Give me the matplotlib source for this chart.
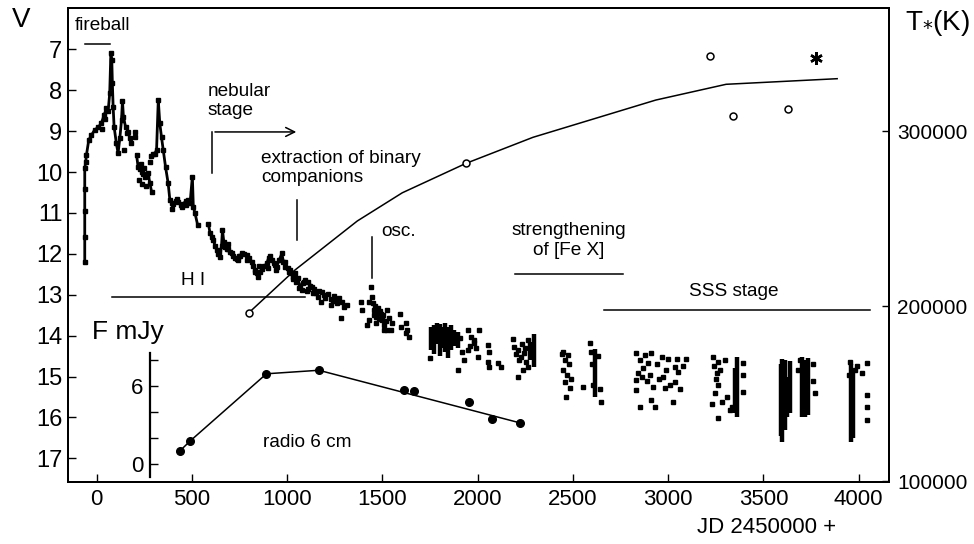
import numpy as np
import matplotlib
matplotlib.use("Agg")
import matplotlib.pyplot as plt

plt.rcParams['font.family'] = ['Liberation Sans', 'DejaVu Sans']

nan = np.nan

# V light curve, densely sampled part (nan = gap in the trace)
trace_jd = [-63, -63, -63, -63, -63, -58, -54, -42, -28, -11, 7, 24, 38, 51, 60, 68, 74, 79, 82, 86,
            91, 103, 112, 121, 130, 135, 140, 151, 165, 174, 180, nan,
            209, 217, 226, 235, 244, 253, 262, 270, 279, 288, nan,
            305, 314, 323, 331, 340, 349, 361, 375, 384, 393, 402, 415, 428, 441, 454, 467, 481, 490,
            502, 507, 516, 530, nan,
            586, 595, 604, 612, 621, 630, 639, 647, 655, 660, 667, 674, 683, 691, 700, 709, 717, 726,
            735, 744, 752, 761, 774, 788, 800, 814, 822, 831, 840, 849, 858, 866, 880, 893, 902, 910,
            919, 928, 937, 945, 958, 972, 980, 989, 1002, 1016, 1028, 1042, 1055, 1068, 1081, 1095,
            1110, 1130]
trace_v = [12.19, 11.58, 10.95, 10.42, 9.91, 9.75, 9.58, 9.22, 9.10, 8.97, 8.91, 8.81, 8.61, 8.44, 8.50,
           8.08, 7.10, 7.26, 7.83, 8.40, 8.89, 9.30, 9.54, 9.18, 8.73, 8.26, 8.65, 8.89, 9.01, 9.18, 9.28, nan,
           9.58, 9.87, 9.92, 9.99, 10.05, 10.11, 10.08, 10.03, 10.28, 10.48, nan,
           9.55, 9.46, 8.24, 8.81, 9.15, 9.46, 9.87, 10.28, 10.69, 10.75, 10.77, 10.70, 10.73, 10.80,
           10.77, 10.72, 10.69, 10.75, 10.11, 10.85, 11.01, 11.30, nan,
           11.26, 11.50, 11.58, 11.66, 11.80, 11.91, 12.00, 12.07, 11.80, 11.42, 11.70, 11.83, 11.88,
           11.87, 11.95, 11.99, 12.05, 12.11, 12.13, 12.15, 12.05, 11.99, 12.00, 12.03, 12.10, 12.19,
           12.30, 12.40, 12.48, 12.56, 12.45, 12.36, 12.30, 12.23, 12.10, 12.05, 12.15, 12.23, 12.28,
           12.31, 12.15, 11.99, 12.20, 12.31, 12.35, 12.40, 12.56, 12.48, 12.60, 12.80, 12.72, 12.64,
           12.70, 12.80]

# individual V estimates
dots_jd = [200, 203, 281, 284, 296, 220, 240, 258, 230, 250, 30, 45, 145, 160, 395, 420, 445, 470,
           640, 690, 745, 790, 830, 850, 900, 940, 990, 1010,
           1020, 1030, 1045, 1060, 1075, 1090, 1105, 1120, 1140, 1150, 1160, 1175, 1185, 1200, 1215,
           1228, 1230, 1245, 1255, 1270, 1281, 1285, 1298, 1316, 1110, 1135, 1165, 1195, 1240, 1262,
           1386, 1395, 1421, 1430, 1430, 1442, 1447, 1450, 1456, 1460, 1465, 1470, 1474, 1480, 1491,
           1495, 1500, 1505, 1509, 1509, 1517, 1526, 1526, 1535, 1544, 1552, 1455, 1468, 1485,
           1593, 1596, 1623, 1623, 1631, 1640,
           1894, 1930, 1947, 1947, 1965, 1982, 1982, 1999, 2008, 2052, 2061, 2052, 2061, 2105, 2123,
           1750, 1905, 1915, 1960, 1990,
           2184, 2193, 2210, 2219, 2228, 2245, 2254, 2263, 2263, 2210, 2230, 2240, 2200, 2250,
           2447, 2456, 2474, 2456, 2482, 2465, 2553, 2588, 2649, 2440, 2450, 2470, 2480, 2490,
           2595, 2600, 2605, 2630, 2640,
           2833, 2842, 2833, 2833, 2851, 2877, 2895, 2912, 2921, 2912, 2930, 2965, 2974, 2982, 3000,
           3035, 3035, 3026, 3096, 3044, 2850, 2860, 2870, 2890, 2905, 2940, 2950, 2990, 3010, 3050,
           3060, 3080,
           3237, 3263, 3254, 3263, 3228, 3281, 3263, 3325, 3395, 3395, 3395, 3333, 3240, 3250, 3245,
           3270, 3300, 3310,
           3760, 3770, 3690, 3956, 3982, 4017, 4044, 4044, 4044, 4044, 3760, 3680, 3950, 3990]
dots_v = [9.01, 9.15, 9.75, 9.62, 9.55, 10.20, 10.30, 10.35, 9.80, 9.90, 8.95, 8.70, 9.45, 9.05, 10.90,
          10.65, 10.85, 10.80, 11.95, 11.75, 12.05, 12.15, 12.45, 12.30, 12.35, 12.40, 12.20, 12.45,
          12.48, 12.62, 12.70, 12.84, 12.88, 12.70, 12.92, 12.78, 12.85, 12.95, 13.05, 13.17, 12.93,
          13.08, 12.98, 13.25, 13.10, 13.02, 13.12, 13.08, 13.58, 13.18, 13.29, 13.25, 12.85, 12.95,
          12.90, 13.00, 13.15, 13.20,
          13.17, 13.37, 13.74, 13.17, 13.62, 12.80, 13.05, 13.20, 13.37, 13.28, 13.54, 13.45, 13.33,
          13.60, 13.46, 13.55, 13.62, 13.50, 13.74, 13.86, 13.65, 13.37, 13.86, 13.58, 13.86, 13.70,
          13.50, 13.70, 13.40,
          13.46, 13.78, 13.70, 13.94, 13.86, 14.03,
          14.84, 14.60, 13.86, 14.35, 14.03, 14.11, 14.19, 14.51, 13.86, 14.23, 14.39, 14.64, 14.76,
          14.68, 14.76, 14.55, 14.05, 14.40, 14.25, 14.30,
          14.07, 14.27, 14.35, 14.60, 14.51, 14.43, 14.64, 14.76, 14.11, 15.00, 14.20, 14.85, 14.45,
          14.30,
          14.39, 14.60, 14.47, 15.13, 15.29, 15.49, 15.25, 14.19, 15.62, 14.45, 14.85, 14.95, 14.70,
          15.05, 14.40, 14.70, 15.20, 14.50, 15.30,
          14.43, 14.92, 15.09, 15.33, 15.74, 14.47, 14.68, 14.43, 15.25, 15.58, 15.74, 14.52, 15.00,
          15.29, 14.56, 14.76, 15.13, 15.62, 14.56, 14.56, 14.60, 15.00, 14.80, 15.10, 14.95, 14.70,
          15.05, 14.85, 15.20, 14.90, 15.30, 14.75,
          14.52, 14.64, 14.92, 15.21, 15.66, 15.62, 16.02, 15.82, 14.68, 14.96, 15.37, 15.74, 14.75,
          15.05, 15.40, 14.85, 14.60, 15.50,
          15.10, 15.40, 14.60, 14.64, 14.84, 14.92, 14.68, 15.45, 15.74, 16.06, 14.70, 14.85, 14.95,
          14.75]

# dense groups of V estimates: JD, brightest, faintest
runs_jd = [1756, 1770, 1785, 1800, 1815, 1830, 1845, 1860, 1875, 1895,
           2275, 2298, 2614, 3352, 3362, 3590, 3600, 3612, 3625, 3640, 3705, 3720, 3735,
           3962, 3972]
runs_top = [13.80, 13.75, 13.70, 13.72, 13.78, 13.70, 13.80, 13.75, 13.85, 13.90,
            14.15, 13.95, 14.33, 14.80, 14.52, 14.70, 14.58, 14.60, 15.00, 14.62, 14.52, 14.60, 14.55,
            14.70, 14.90]
runs_bot = [14.35, 14.45, 14.20, 14.50, 14.30, 14.40, 14.55, 14.35, 14.25, 14.30,
            14.60, 14.76, 15.49, 15.90, 15.98, 16.45, 16.60, 16.30, 16.00, 15.90, 15.98, 16.00, 15.95,
            16.60, 16.50]

# temperature of the hot component
tline_jd = [799, 1041, 1368, 1604, 1938, 2290, 2935, 3304, 3887]
tline_k = [196200, 220600, 248600, 264700, 281500, 296400, 317700, 326700, 329900]
tobs_jd = [799, 1938, 3222, 3338, 3628]
tobs_k = [196200, 281500, 343000, 308600, 312400]
tstar_jd = [3775]
tstar_k = [341500]

# radio 6 cm flux
radio_jd = [438, 491, 891, 1166, 1614, 1666, 1956, 2075, 2223]
radio_mjy = [1.05, 1.8, 6.96, 7.23, 5.7, 5.6, 4.77, 3.46, 3.18]
radio_fit_jd = [438, 491, 891, 1166, 2223]
radio_fit_mjy = [1.05, 1.8, 6.96, 7.23, 3.18]

jd_ticks = [0, 500, 1000, 1500, 2000, 2500, 3000, 3500, 4000]
v_ticks = [7, 8, 9, 10, 11, 12, 13, 14, 15, 16, 17]
t_ticks = [100000, 200000, 300000]

fig = plt.figure(figsize=(9.74, 5.44), dpi=100)
ax = fig.add_axes([0.0698, 0.1145, 0.8429, 0.8708])
ax.set_xlim(-151, 4159)
ax.set_ylim(17.57, 5.99)

ax.plot(trace_jd, trace_v, color='black', lw=2.0, marker='s', ms=3.0)
ax.plot(dots_jd, dots_v, 's', color='black', ms=2.6, lw=0)
ax.vlines(runs_jd, runs_top, runs_bot, color='black', lw=3.2)

ax.set_xticks(jd_ticks)
ax.set_yticks(v_ticks)
ax.tick_params(axis='x', direction='in', length=6, width=1, labelsize=16, pad=5)
ax.tick_params(axis='y', direction='in', length=6, width=1, labelsize=17, pad=4)
for s in ax.spines.values():
    s.set_linewidth(1.4)

lk = dict(color='black', lw=1.1)
ax.plot([-62, 70], [6.88, 6.88], **lk)
ax.plot([79, 1093], [13.06, 13.06], **lk)
ax.plot([607, 607], [10.03, 9.02], **lk)
ax.annotate('', xy=(1062, 9.02), xytext=(606, 9.02),
            arrowprops=dict(arrowstyle='->', lw=1.1, color='black', mutation_scale=16))
ax.plot([1053, 1053], [10.69, 11.65], **lk)
ax.plot([1447, 1447], [11.58, 12.6], **lk)
ax.plot([2196, 2763], [12.5, 12.5], **lk)
ax.plot([2664, 4061], [13.37, 13.37], **lk)

fs = 13.7
ax.text(28, 6.41, 'fireball', fontsize=fs, ha='center', va='center')
ax.text(580, 8.26, 'nebular\nstage', fontsize=fs, ha='left', va='center', linespacing=1.2)
ax.text(862, 9.90, 'extraction of binary\ncompanions', fontsize=fs, ha='left', va='center',
        linespacing=1.15)
ax.text(1493, 11.46, 'osc.', fontsize=fs, ha='left', va='center')
ax.text(2477, 11.67, 'strengthening\nof [Fe X]', fontsize=fs, ha='center', va='center',
        linespacing=1.25)
ax.text(504, 12.64, 'H I', fontsize=fs, ha='center', va='center')
ax.text(3345, 12.93, 'SSS stage', fontsize=fs, ha='center', va='center')
ax.text(873, 16.62, 'radio 6 cm', fontsize=fs, ha='left', va='center')

# temperature axis
tax = ax.twinx()
tax.set_ylim(99600, 370300)
tax.plot(tline_jd, tline_k, color='black', lw=1.1)
tax.plot(tobs_jd, tobs_k, 'o', ms=5, mfc='white', mec='black', mew=1.1)
tax.plot(tstar_jd, tstar_k, marker=(6, 2, 0), ms=9, color='black', mew=1.8, lw=0)
tax.set_yticks(t_ticks)
tax.set_yticklabels([str(t) for t in t_ticks])
tax.tick_params(axis='y', direction='in', length=5, width=1, labelsize=15, pad=6)
for s in tax.spines.values():
    s.set_linewidth(1.4)

# radio inset
ins = ax.inset_axes([0, 0.0099, 1, 0.2624])
ins.set_xlim(ax.get_xlim())
ins.set_ylim(-0.98, 8.58)
ins.patch.set_visible(False)
for side in ['top', 'right', 'bottom']:
    ins.spines[side].set_visible(False)
ins.spines['left'].set_position(('data', 280))
ins.spines['left'].set_linewidth(1.6)
ins.set_xticks([])
ins.set_yticks([0, 2, 4, 6, 8])
ins.set_yticklabels(['0', '', '', '6', ''])
ins.tick_params(axis='y', direction='in', length=6, width=1, labelsize=16, pad=5)
ins.plot(radio_fit_jd, radio_fit_mjy, color='black', lw=1.1)
ins.plot(radio_jd, radio_mjy, 'o', color='black', ms=5.5, lw=0)

fig.text(0.0945, 0.3897, 'F mJy', fontsize=19, ha='left', va='center')
fig.text(0.012, 0.963, 'V', fontsize=20, ha='left', va='center')
fig.text(0.929, 0.957, 'T$_{*}$(K)', fontsize=20, ha='left', va='center')
fig.text(0.7875, 0.031, 'JD 2450000 +', fontsize=16, ha='center', va='center')

fig.savefig('out.png', dpi=100)
